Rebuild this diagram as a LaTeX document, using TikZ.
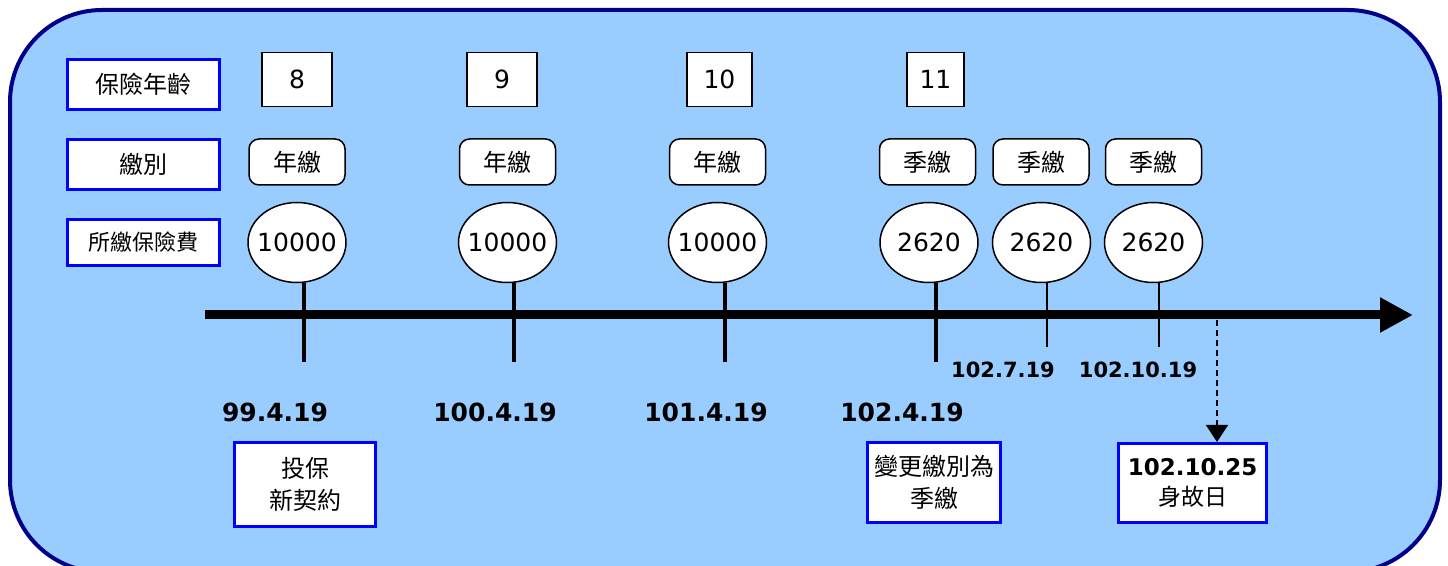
\documentclass[tikz,border=0pt]{standalone}
\usepackage{fontspec}
\setmainfont{DejaVu Sans}
\newfontfamily\cjk{Noto Sans CJK TC}
\usetikzlibrary{arrows.meta,shapes.geometric}
\definecolor{bgblue}{HTML}{99CCFF}
\definecolor{navyb}{HTML}{00008B}
\newcommand\zw[1]{\makebox[0pt]{#1}}
\begin{document}
\begin{tikzpicture}[x=0.5pt,y=-0.5pt,
  rowlabel/.style={draw=blue, line width=1.5pt, fill=white, minimum width=76pt, inner sep=0pt, font=\cjk\fontsize{12}{14}\selectfont},
  agebox/.style={draw=black, line width=0.75pt, fill=white, minimum height=27pt, inner sep=0pt, font=\fontsize{12.5}{14}\selectfont},
  paybox/.style={draw=black, line width=0.75pt, fill=white, rounded corners=5pt, minimum width=48pt, minimum height=23pt, inner sep=0pt, font=\cjk\fontsize{12}{14}\selectfont},
  amount/.style={ellipse, draw=black, line width=0.75pt, fill=white, minimum width=49pt, minimum height=40pt, inner sep=0pt, font=\fontsize{12.5}{14}\selectfont},
  bigdate/.style={font=\bfseries\fontsize{12.5}{14}\selectfont, inner sep=0pt},
  smalldate/.style={font=\bfseries\fontsize{10.5}{12}\selectfont, inner sep=0pt},
  notebox/.style={draw=blue, line width=1.5pt, fill=white, inner sep=0pt, align=center, font=\cjk\fontsize{12}{16}\selectfont},
  thicktick/.style={line width=2pt},
  thintick/.style={line width=0.7pt}
]
\useasboundingbox (0,0) rectangle (1448,566);
\draw[navyb, line width=2pt, fill=bgblue, rounded corners=46pt] (10,10) rectangle (1440,572);

% row labels
\node[rowlabel, minimum height=25pt] (lage) at (143.5,84.5) {保險年齡};
\node[rowlabel, minimum height=25pt] (ltype) at (143.5,164.5) {繳別};
\node[rowlabel, minimum height=23pt, font=\cjk\fontsize{11}{13}\selectfont] (lprem) at (143.5,242.5) {所繳保險費};

% ages
\node[agebox, minimum width=35pt] (a1) at (297,79.5) {8};
\node[agebox, minimum width=35pt] (a2) at (502,79.5) {9};
\node[agebox, minimum width=32.5pt] (a3) at (719.5,79.5) {10};
\node[agebox, minimum width=28.5pt] (a4) at (935.5,79.5) {11};

% payment types
\node[paybox] (p1) at (297,162) {年繳};
\node[paybox] (p2) at (507.5,162) {年繳};
\node[paybox] (p3) at (717.5,162) {年繳};
\node[paybox] (p4) at (927.5,162) {季繳};
\node[paybox] (p5) at (1041,162) {季繳};
\node[paybox] (p6) at (1153.5,162) {季繳};

% timeline
\coordinate (ts) at (205,315);
\coordinate (te) at (1413,315);
\draw[line width=4.5pt, -{Triangle[length=16.5pt,width=16.5pt]}] (ts) -- (te);

% amounts
\node[amount] (e1) at (297,242.5) {\zw{10000}};
\node[amount] (e2) at (507.5,242.5) {\zw{10000}};
\node[amount] (e3) at (717.5,242.5) {\zw{10000}};
\node[amount] (e4) at (929,242.5) {\zw{2620}};
\node[amount] (e5) at (1041.5,242.5) {\zw{2620}};
\node[amount] (e6) at (1153.5,242.5) {\zw{2620}};

% ticks
\coordinate (t1) at (304,362);
\coordinate (t2) at (514,362);
\coordinate (t3) at (725,362);
\coordinate (t4) at (935.5,362);
\coordinate (t5) at (1047,347);
\coordinate (t6) at (1159,347);
\draw[thicktick] (t1 |- e1.south) -- (t1);
\draw[thicktick] (t2 |- e2.south) -- (t2);
\draw[thicktick] (t3 |- e3.south) -- (t3);
\draw[thicktick] (t4 |- e4.south) -- (t4);
\draw[thintick] (t5 |- e5.south) -- (t5);
\draw[thintick] (t6 |- e6.south) -- (t6);

% dates
\node[bigdate] (d1) at (275,412) {99.4.19};
\node[bigdate] (d2) at (495,412) {100.4.19};
\node[bigdate] (d3) at (706,412) {101.4.19};
\node[bigdate] (d4) at (902,412) {102.4.19};
\node[smalldate] (d5) at (1003,370) {102.7.19};
\node[smalldate] (d6) at (1138,370) {102.10.19};

% notes
\node[notebox, minimum width=70.5pt, minimum height=42pt] (n1) at (305,484.5) {投保\\新契約};
\node[notebox, minimum width=66.5pt, minimum height=40pt] (n2) at (934,482.5) {變更繳別為\\季繳};
\node[notebox, minimum width=74pt, minimum height=39.5pt, font=\fontsize{11.5}{15}\selectfont] (n3) at (1192.5,483) {\textbf{102.10.25}\\{\cjk 身故日}};

% death arrow
\coordinate (dd) at (1217,320);
\draw[line width=0.75pt, dash pattern=on 3pt off 2pt, -{Triangle[length=8.5pt,width=11pt]}] (dd) -- (dd |- n3.north);
\end{tikzpicture}
\end{document}
